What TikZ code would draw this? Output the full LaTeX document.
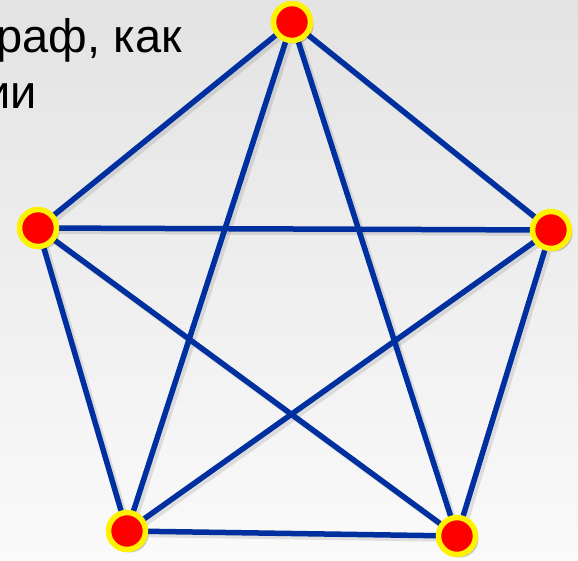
\documentclass[tikz,border=0pt]{standalone}
\usepackage{fontspec}
\setmainfont{Liberation Sans}
\usetikzlibrary{backgrounds,shadows}
\pgfdeclarelayer{bg}
\pgfsetlayers{bg,background,main}
\definecolor{edgeblue}{RGB}{0,48,160}
\tikzset{
  vert/.style={circle, fill=red, draw=yellow, line width=5.5pt, minimum size=37pt, inner sep=0pt,
    drop shadow={shadow xshift=3pt, shadow yshift=-3pt, opacity=0.2, fill=black}},
  edge/.style={draw=edgeblue, line width=5.5pt},
  edgeshadow/.style={draw=black, opacity=0.1, line width=6pt},
  txt/.style={font=\fontsize{47}{47}\selectfont, text=black, inner sep=0pt}
}
\begin{document}
\begin{tikzpicture}[x=1pt, y=-1pt]
\useasboundingbox (0,0) rectangle (578,560);
\clip (0,0) rectangle (578,560);
\begin{pgfonlayer}{bg}
  \shade[top color=black!11, bottom color=black!2] (0,0) rectangle (578,560);
\end{pgfonlayer}
\node[txt, anchor=base west] (l1) at (18,-12) {д};
\node[txt, anchor=base east] (l2) at (182,52) {раф, как};
\node[txt, anchor=base east] (l3) at (37,108) {ии};
\node[vert] (t) at (292,22) {};
\node[vert] (l) at (38,228) {};
\node[vert] (r) at (551,230) {};
\node[vert] (bl) at (127,531) {};
\node[vert] (br) at (457,536) {};
\begin{pgfonlayer}{background}
  \foreach \a/\b in {t/l,t/r,t/bl,t/br,l/r,l/bl,l/br,r/bl,r/br,bl/br}{
    \draw[edgeshadow, transform canvas={xshift=3pt, yshift=-3pt}] (\a.center) -- (\b.center);
  }
  \foreach \a/\b in {t/l,t/r,t/bl,t/br,l/r,l/bl,l/br,r/bl,r/br,bl/br}{
    \draw[edge] (\a.center) -- (\b.center);
  }
\end{pgfonlayer}
\end{tikzpicture}
\end{document}
